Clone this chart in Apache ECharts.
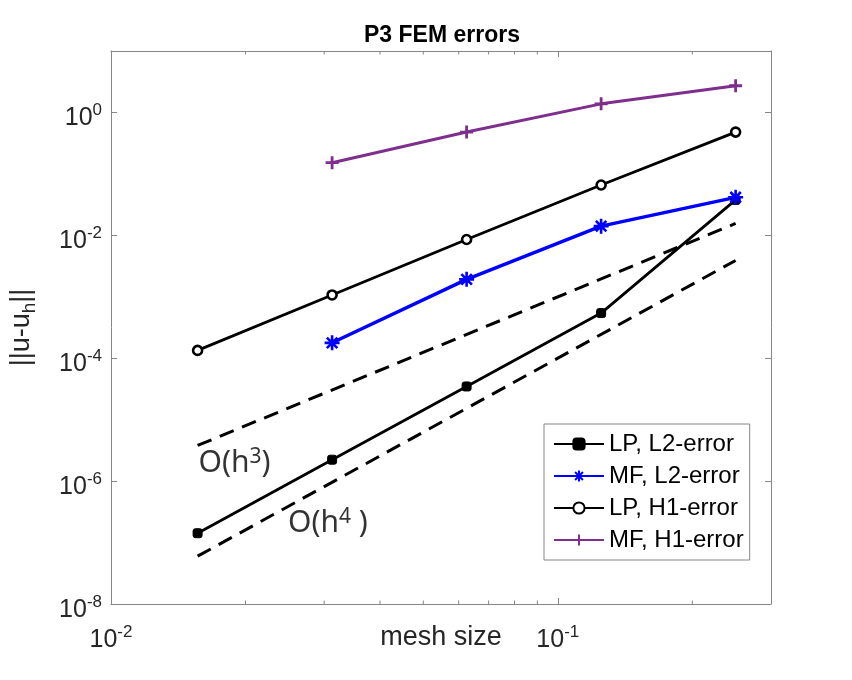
<!DOCTYPE html>
<html>
<head>
<meta charset="utf-8">
<script src="https://cdn.jsdelivr.net/npm/echarts@6/dist/echarts.min.js"></script>
<style>
  html, body { margin: 0; padding: 0; background: #fff; }
  #main { width: 852px; height: 680px; }
</style>
</head>
<body>
<div id="main"></div>
<script>
// mesh sizes h = 1/64 ... 1/4
var meshSize = [0.015625, 0.03125, 0.0625, 0.125, 0.25];
var lpL2 = [1.42e-7, 2.23e-6, 3.47e-5, 5.43e-4, 3.77e-2];
var mfL2 = [null, 1.78e-4, 1.92e-3, 1.41e-2, 4.16e-2];
var lpH1 = [1.34e-4, 1.07e-3, 8.55e-3, 6.59e-2, 4.79e-1];
var mfH1 = [null, 0.152, 0.479, 1.38, 2.72];

// reference slopes (end points only)
var refH = [0.015625, 0.25];
var refH3 = [3.8e-6, 1.56e-2];
var refH4 = [6.0e-8, 3.9e-3];

var xMinorTicks = [0.02, 0.03, 0.04, 0.05, 0.06, 0.07, 0.08, 0.09, 0.2];
var xRange = [0.01, 0.3];
var yRange = [1e-8, 10];

var annotations = [
    { text: '{t|O(h}{p|3}{t|)}', x: 0.0157, y: 2.0e-6 },
    { text: '{t|O(h}{p|4}{t| )}', x: 0.0249, y: 2.13e-7 }
];

var axisColor = '#868686';
var labelColor = '#262626';
var fontFamily = '"Liberation Sans", Arial, sans-serif';
var noteFont = '"Noto Sans", sans-serif';

function pairs(xs, ys) {
    var out = [];
    for (var i = 0; i < xs.length; i++) {
        if (ys[i] != null) out.push([xs[i], ys[i]]);
    }
    return out;
}

function powLabel(v, onlyEven) {
    var l = Math.log10(v);
    var e = Math.round(l);
    if (Math.abs(l - e) > 1e-6) return '';
    if (onlyEven && e % 2 !== 0) return '';
    return '{b|10}{s|' + e + '}';
}

var tickRich = {
    b: { fontSize: 25, fontFamily: fontFamily, color: labelColor, verticalAlign: 'bottom', lineHeight: 29 },
    s: { fontSize: 17, fontFamily: fontFamily, color: labelColor, verticalAlign: 'top', lineHeight: 29 }
};

var asterisk = 'path://M0,-10L0,10M-10,0L10,0M-7,-7L7,7M-7,7L7,-7';
var plus = 'path://M0,-10L0,10M-10,0L10,0';

var chart = echarts.init(document.getElementById('main'));

var option = {
    backgroundColor: '#fff',
    animation: false,
    title: {
        text: 'P3 FEM errors',
        left: 359,
        top: 19,
        textStyle: { fontSize: 23, fontWeight: 'bold', color: '#000', fontFamily: fontFamily }
    },
    grid: { left: 111, right: 81, top: 51, bottom: 76 },
    legend: {
        orient: 'vertical',
        left: 544,
        top: 424,
        padding: [8, 6, 8, 9],
        itemGap: 8,
        itemWidth: 50,
        itemHeight: 14,
        backgroundColor: '#fff',
        borderColor: axisColor,
        borderWidth: 1,
        textStyle: { fontSize: 24, color: '#000', fontFamily: fontFamily, lineHeight: 24 },
        data: ['LP, L2-error', 'MF, L2-error', 'LP, H1-error', 'MF, H1-error']
    },
    xAxis: [{
        type: 'log',
        logBase: 10,
        min: xRange[0],
        max: xRange[1],
        interval: 1,
        position: 'bottom',
        name: 'mesh size',
        nameLocation: 'middle',
        nameGap: 20,
        nameMoveOverlap: false,
        nameTextStyle: { fontSize: 27, color: labelColor, fontFamily: fontFamily, verticalAlign: 'top' },
        axisLine: { show: true, lineStyle: { color: axisColor, width: 1 } },
        axisTick: { show: true, inside: true, length: 6, lineStyle: { color: axisColor } },
        axisLabel: {
            margin: 20,
            formatter: function (v) { return powLabel(v, false); },
            rich: tickRich
        },
        splitLine: { show: false }
    }, {
        type: 'log',
        logBase: 10,
        min: xRange[0],
        max: xRange[1],
        interval: 1,
        position: 'top',
        axisLine: { show: true, lineStyle: { color: axisColor, width: 1 } },
        axisTick: { show: true, inside: true, length: 6, lineStyle: { color: axisColor } },
        axisLabel: { show: false },
        splitLine: { show: false }
    }],
    yAxis: [{
        type: 'log',
        logBase: 10,
        min: yRange[0],
        max: yRange[1],
        interval: 2,
        position: 'left',
        name: '{n|||u-u}{h|h}{n|||}',
        nameLocation: 'middle',
        nameRotate: 90,
        nameGap: 72,
        nameMoveOverlap: false,
        nameTextStyle: {
            rich: {
                n: { fontSize: 27, color: labelColor, fontFamily: fontFamily, lineHeight: 34 },
                h: { fontSize: 19, color: labelColor, fontFamily: fontFamily, verticalAlign: 'bottom', lineHeight: 34 }
            }
        },
        axisLine: { show: true, lineStyle: { color: axisColor, width: 1 } },
        axisTick: { show: true, inside: true, length: 6, lineStyle: { color: axisColor } },
        axisLabel: {
            margin: 9,
            padding: [8, 0, 0, 0],
            formatter: function (v) { return powLabel(v, true); },
            rich: tickRich
        },
        splitLine: { show: false }
    }, {
        type: 'log',
        logBase: 10,
        min: yRange[0],
        max: yRange[1],
        interval: 2,
        position: 'right',
        axisLine: { show: true, lineStyle: { color: axisColor, width: 1 } },
        axisTick: { show: true, inside: true, length: 6, lineStyle: { color: axisColor } },
        axisLabel: { show: false },
        splitLine: { show: false }
    }],
    series: [
        {
            name: 'h3',
            type: 'line',
            data: pairs(refH, refH3),
            symbol: 'none',
            lineStyle: { color: '#000', width: 3, type: [15, 9] },
            silent: true
        },
        {
            name: 'h4',
            type: 'line',
            data: pairs(refH, refH4),
            symbol: 'none',
            lineStyle: { color: '#000', width: 3, type: [15, 9] },
            silent: true
        },
        {
            name: 'LP, L2-error',
            type: 'line',
            data: pairs(meshSize, lpL2),
            symbol: 'roundRect',
            symbolSize: 9,
            lineStyle: { color: '#000', width: 2.8 },
            itemStyle: { color: '#000', borderColor: '#000', borderWidth: 1 }
        },
        {
            name: 'MF, L2-error',
            type: 'line',
            data: pairs(meshSize, mfL2),
            symbol: asterisk,
            symbolSize: 15,
            lineStyle: { color: '#0000ff', width: 3.4 },
            itemStyle: { color: '#0000ff', borderColor: '#0000ff', borderWidth: 2.6 }
        },
        {
            name: 'LP, H1-error',
            type: 'line',
            data: pairs(meshSize, lpH1),
            symbol: 'circle',
            symbolSize: 9,
            lineStyle: { color: '#000', width: 2.8 },
            itemStyle: { color: '#fff', borderColor: '#000', borderWidth: 2.6 }
        },
        {
            name: 'MF, H1-error',
            type: 'line',
            data: pairs(meshSize, mfH1),
            symbol: plus,
            symbolSize: 13,
            lineStyle: { color: '#7e2f8e', width: 3 },
            itemStyle: { color: '#7e2f8e', borderColor: '#7e2f8e', borderWidth: 2.8 }
        },
        {
            name: 'notes',
            type: 'scatter',
            symbolSize: 0,
            silent: true,
            data: annotations.map(function (a) { return { value: [a.x, a.y], text: a.text }; }),
            label: {
                show: true,
                position: 'right',
                distance: 0,
                formatter: function (p) { return p.data.text; },
                rich: {
                    t: { fontSize: 30, color: '#000', fontFamily: noteFont, verticalAlign: 'bottom', lineHeight: 32 },
                    p: { fontSize: 21, color: '#000', fontFamily: noteFont, verticalAlign: 'top', lineHeight: 32 }
                }
            }
        },
        {
            name: 'minorTicks',
            type: 'custom',
            silent: true,
            clip: false,
            encode: { x: 0, y: 1 },
            data: xMinorTicks.map(function (v) { return [v, yRange[0]]; }),
            renderItem: function (params, api) {
                var x = api.value(0);
                var b = api.coord([x, yRange[0]]);
                var t = api.coord([x, yRange[1]]);
                var st = { stroke: axisColor, lineWidth: 1 };
                return {
                    type: 'group',
                    children: [
                        { type: 'line', shape: { x1: b[0], y1: b[1], x2: b[0], y2: b[1] - 3.5 }, style: st },
                        { type: 'line', shape: { x1: t[0], y1: t[1], x2: t[0], y2: t[1] + 3.5 }, style: st }
                    ]
                };
            }
        }
    ]
};

chart.setOption(option);
</script>
</body>
</html>
